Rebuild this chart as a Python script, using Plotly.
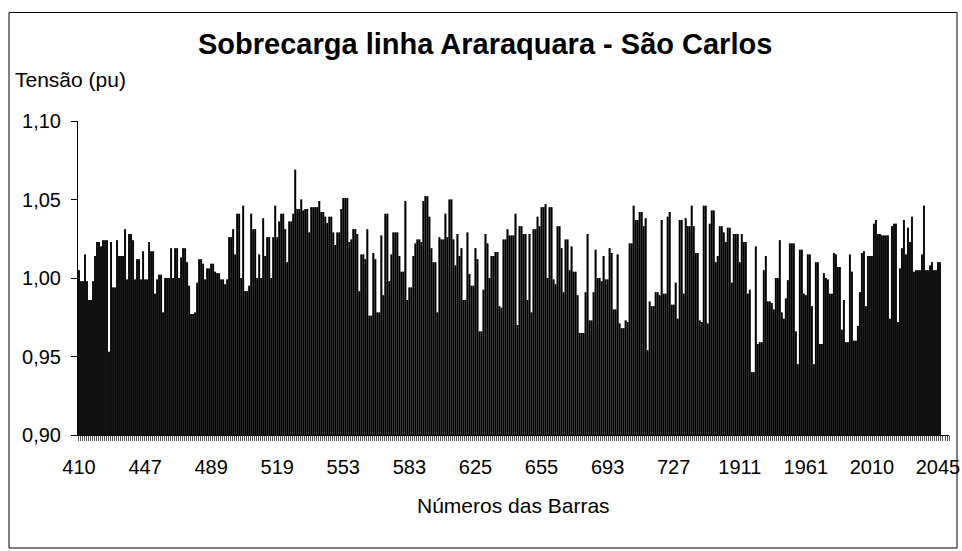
import plotly.graph_objects as go

# --- DATA (tensão por barra) ---
TENSAO_A = [
    1.005, 0.998, 0.998, 1.015, 0.998, 0.986, 0.986, 0.998, 1.014, 1.023,
    1.023, 1.020, 1.024, 1.024, 1.024, 0.953, 1.023, 0.994, 0.994, 1.024,
    1.014, 1.014, 1.014, 1.031, 0.999, 1.028, 1.028, 1.024, 0.999, 1.012,
    1.012, 0.999, 1.017, 0.999, 0.999, 1.023, 1.017, 1.017, 0.990, 0.999,
    1.002, 1.002, 0.978, 1.000, 1.000, 1.000, 1.019, 1.000, 1.019, 1.019,
    1.000, 1.013, 1.019, 1.019, 1.010, 0.995, 0.977, 0.977, 0.978, 0.997,
    1.012, 1.012, 1.009, 0.999, 1.006, 1.006, 1.009, 1.009, 1.004, 1.003,
    1.003, 0.999, 0.999, 0.996, 0.999, 1.026, 1.026, 1.031, 1.015, 1.041,
    1.041, 1.000, 1.046, 0.9915, 0.9915, 0.995, 1.041, 1.031, 1.031, 1.000,
    1.015, 1.000, 1.038, 1.014, 1.026, 1.026, 1.000, 1.026, 1.046, 1.026,
    1.036, 1.041, 1.041,
]
TENSAO_B = [
    1.031, 1.010, 1.036, 1.036, 1.041, 1.069, 1.044, 1.044, 1.050, 1.043,
    1.044, 1.044, 1.029, 1.045, 1.045, 1.045, 1.045, 1.049, 1.042, 1.042,
    1.039, 1.035, 1.039, 1.039, 1.029, 1.021, 1.029, 1.029, 1.044, 1.051,
    1.051, 1.051, 1.023, 1.0245, 1.031, 1.031, 1.028, 0.9915, 1.015, 1.015,
    1.012, 1.031, 0.976, 0.976, 1.016, 1.012, 0.978, 0.978, 1.027, 0.989,
    1.041, 1.041, 0.998, 1.015, 1.029, 1.029, 1.029, 1.014, 1.004, 1.004,
    1.049, 0.986, 0.994, 0.994, 1.014, 1.022, 1.0245, 1.0245, 1.023, 1.049,
    1.052, 1.052, 1.039, 1.019, 1.010, 1.010, 0.978, 1.026, 1.0245, 1.0245,
    1.041, 1.026, 1.050, 1.050, 1.0245, 1.008, 1.028, 1.014, 1.019, 0.986,
    0.986, 1.029, 1.0026, 0.995, 0.995, 1.019, 1.012, 0.966, 0.966, 0.9925,
    1.028, 1.022, 1.000, 1.014, 1.014,
]
TENSAO_C = [
    1.0166, 1.0166, 0.982, 0.981, 1.0245, 1.0245, 1.031, 1.027, 1.027, 1.027,
    1.041, 0.970, 1.033, 1.033, 1.028, 1.028, 0.986, 1.028, 0.978, 1.031,
    1.031, 1.039, 1.033, 1.045, 1.045, 1.047, 1.000, 1.045, 1.045, 0.999,
    0.996, 1.033, 1.033, 1.019, 0.991, 1.0245, 1.0245, 1.005, 1.020, 1.004,
    1.004, 0.989, 0.965, 0.965, 0.965, 0.991, 1.028, 0.973, 0.973, 0.991,
    1.018, 1.000, 1.000, 0.998, 1.014, 0.999, 0.999, 1.019, 1.016, 0.980,
    0.980, 1.015, 0.971, 0.968, 0.968, 0.973, 0.972, 1.022, 1.022, 1.046,
    1.037, 1.037, 1.042, 1.042, 1.033, 1.038, 0.954, 0.985, 0.982, 0.982,
    0.991, 0.991, 0.989, 1.037, 0.990, 0.990, 1.039, 1.042, 0.983, 0.983,
    0.997, 0.974, 1.037, 1.037, 0.990, 1.038, 1.033, 1.033, 1.046, 1.033,
    1.016, 1.016, 0.973, 0.972, 1.046, 1.046,
]
TENSAO_D = [
    0.971, 1.0345, 1.043, 1.043, 1.010, 1.014, 1.033, 1.033, 1.029, 1.023,
    1.032, 1.032, 0.997, 1.028, 1.028, 1.028, 1.010, 1.028, 1.023, 1.023,
    0.990, 0.9925, 0.940, 0.940, 1.020, 0.958, 0.959, 0.959, 1.005, 1.014,
    0.985, 0.985, 0.984, 0.980, 1.000, 1.000, 1.024, 0.978, 0.974, 0.987,
    0.9985, 1.022, 1.022, 1.022, 0.966, 0.945, 1.018, 1.018, 0.990, 0.989,
    1.015, 1.015, 0.982, 0.945, 1.010, 1.010, 0.958, 0.958, 1.003, 1.000,
    0.999, 0.990, 0.990, 1.016, 1.015, 1.007, 1.007, 0.967, 0.986, 0.959,
    0.959, 1.015, 1.004, 0.960, 0.960, 0.9695, 0.991, 1.016, 1.017, 0.982,
    1.014, 1.014, 1.014, 1.0345, 1.037, 1.028, 1.028, 1.027, 1.027, 1.027,
    1.027, 0.974, 1.033, 1.0345, 1.0345, 0.972, 1.006, 1.019, 1.037, 1.015,
    1.032, 1.023, 1.039, 1.004, 1.005, 1.005, 1.005, 1.015, 1.046, 1.005,
    1.005, 1.008, 1.010, 1.005, 1.005, 1.010, 1.010,
]

BARRAS_LABELS = ["410", "447", "489", "519", "553", "583", "625",
                 "655", "693", "727", "1911", "1961", "2010", "2045"]
LABEL_STEP = 33
N_CATEGORIAS = 435

Y_TICKS = [0.90, 0.95, 1.00, 1.05, 1.10]
Y_TICK_TEXT = ["0,90", "0,95", "1,00", "1,05", "1,10"]

tensao = TENSAO_A + TENSAO_B + TENSAO_C + TENSAO_D
idx = list(range(len(tensao)))

FONT = "Liberation Sans, Arial, sans-serif"

fig = go.Figure()
# grey underlay so the narrow gaps between bars read grey, as in the Excel render
fig.add_trace(go.Bar(
    x=idx, y=tensao, width=1.0,
    marker=dict(color="rgba(85,85,85,0.99)", line=dict(width=0)),
    hoverinfo="skip",
))
# alpha < 1 makes plotly round bar edges to whole pixels -> thin gaps show
fig.add_trace(go.Bar(
    x=idx, y=tensao, width=0.82,
    marker=dict(color="rgba(0,0,0,0.99)", line=dict(width=0)),
    hovertemplate="%{y:.3f}<extra></extra>",
))

# --- LAYOUT ---
fig.update_layout(
    width=962, height=551,
    margin=dict(l=78, r=13, t=121, b=116),
    plot_bgcolor="white", paper_bgcolor="white",
    barmode="overlay",
    showlegend=False,
    font=dict(family=FONT, size=20, color="black"),
    xaxis=dict(
        range=[-0.5, N_CATEGORIAS - 0.5],
        tickvals=[i * LABEL_STEP for i in range(len(BARRAS_LABELS))],
        ticktext=BARRAS_LABELS,
        ticks="", ticklabelstandoff=14, ticklabeloverflow="allow",
        automargin=False,
        minor=dict(ticks="outside", dtick=1, tick0=0.5, ticklen=5,
                   tickcolor="#555555", tickwidth=1),
        showgrid=False, zeroline=False,
        showline=True, linecolor="black", linewidth=1,
        tickfont=dict(size=20),
    ),
    yaxis=dict(
        range=[0.90, 1.10],
        tickvals=Y_TICKS, ticktext=Y_TICK_TEXT,
        ticks="outside", ticklen=6, tickcolor="black", ticklabelstandoff=6,
        automargin=False,
        showgrid=False, zeroline=False,
        showline=True, linecolor="black", linewidth=1,
        tickfont=dict(size=20),
    ),
    shapes=[dict(type="rect", xref="paper", yref="paper",
                 x0=-0.0792, x1=1.0092, y0=-0.3599, y1=1.3455,
                 line=dict(color="black", width=1))],
    annotations=[
        dict(text="<b>Sobrecarga linha Araraquara - São Carlos</b>",
             xref="paper", yref="paper", x=0.4673, y=1.245,
             xanchor="center", yanchor="middle", showarrow=False,
             font=dict(size=29)),
        dict(text="Tensão (pu)", xref="paper", yref="paper",
             x=-0.0746, y=1.1306, xanchor="left", yanchor="middle",
             showarrow=False, font=dict(size=21)),
        dict(text="Números das Barras", xref="paper", yref="paper",
             x=0.5, y=-0.226, xanchor="center", yanchor="middle",
             showarrow=False, font=dict(size=21)),
    ],
)

# page margin / scrollbar would push the 962x551 figure out of the window
fig.write_html(
    "out.html", config={"displayModeBar": False},
    post_script=("document.body.style.margin='0';"
                 "document.body.style.overflow='hidden';"
                 "document.documentElement.style.overflow='hidden';"),
)
